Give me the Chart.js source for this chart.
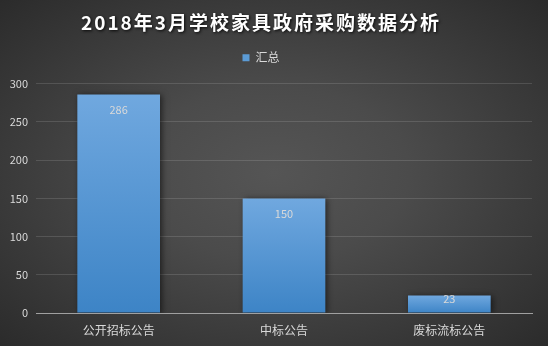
<!DOCTYPE html>
<html>
<head>
<meta charset="utf-8">
<script src="https://cdn.jsdelivr.net/npm/chart.js@4/dist/chart.umd.min.js"></script>
<style>
  html, body { margin: 0; padding: 0; }
  #wrap {
    width: 548px; height: 346px;
    background: radial-gradient(ellipse at 50% 50%, #555555 0%, #4b4b4b 35%, #2b2b2b 100%);
  }
</style>
</head>
<body>
<div id="wrap"><canvas id="grafico" width="548" height="346"></canvas></div>
<script>
// dados
var categorias = ['公开招标公告', '中标公告', '废标流标公告']
var valores = [286, 150, 23]
var nomeSerie = '汇总'
var tituloTexto = '2018年3月学校家具政府采购数据分析'
var eixoMin = 0
var eixoMax = 300
var passo = 50

var fonte = "'Noto Sans CJK SC', 'Noto Sans', sans-serif"
var corTexto = '#d9d9d9'
var corLegenda = '#5b9bd5'

// gradiente de cada barra (claro em cima, escuro embaixo)
function corBarra(context) {
    var chart = context.chart
    var area = chart.chartArea
    if (!area) return corLegenda
    var y = chart.scales.y
    var topo = y.getPixelForValue(context.raw)
    var base = y.getPixelForValue(0)
    var g = chart.ctx.createLinearGradient(0, topo, 0, base)
    g.addColorStop(0, '#70a8df')
    g.addColorStop(1, '#3d84c6')
    return g
}

// sombra no titulo + espaco extra depois da legenda
var ajustes = {
    id: 'ajustes',
    beforeLayout: function (chart) {
        var leg = chart.legend
        if (leg && !leg._ajustado) {
            var fitOriginal = leg.fit
            var drawLeg = leg.draw
            leg.fit = function () {
                fitOriginal.apply(this, arguments)
                this.height += 10
            }
            leg.draw = function () {
                this.ctx.save()
                this.ctx.translate(-5, 0)
                drawLeg.apply(this, arguments)
                this.ctx.restore()
            }
            leg._ajustado = true
        }
    },
    afterLayout: function (chart) {
        var t = chart.titleBlock
        if (!t || t._comSombra) return
        var original = t.draw
        t.draw = function () {
            var ctx = this.ctx
            ctx.save()
            ctx.shadowColor = 'rgba(0,0,0,0.85)'
            ctx.shadowBlur = 3
            ctx.shadowOffsetX = 1
            ctx.shadowOffsetY = 1
            ctx.letterSpacing = '2px'
            ctx.translate(-5, 0)
            original.apply(this, arguments)
            ctx.restore()
        }
        t._comSombra = true
    }
}

// sombra nas barras
var sombraBarras = {
    id: 'sombraBarras',
    beforeDatasetsDraw: function (chart) {
        var ctx = chart.ctx
        ctx.save()
        ctx.shadowColor = 'rgba(0,0,0,0.55)'
        ctx.shadowBlur = 6
        ctx.shadowOffsetX = 2
        ctx.shadowOffsetY = 1
    },
    afterDatasetsDraw: function (chart) {
        chart.ctx.restore()
    }
}

// rotulos de valor dentro da barra
var rotulos = {
    id: 'rotulos',
    afterDatasetsDraw: function (chart) {
        var ctx = chart.ctx
        var meta = chart.getDatasetMeta(0)
        ctx.save()
        ctx.font = '11px ' + fonte
        ctx.fillStyle = corTexto
        ctx.textAlign = 'center'
        ctx.textBaseline = 'middle'
        meta.data.forEach(function (barra, i) {
            var altura = barra.base - barra.y
            var y = Math.min(barra.y + 15, barra.y + altura / 2 - 5)
            ctx.fillText(String(valores[i]), barra.x, y)
        })
        ctx.restore()
    }
}

var grafico = new Chart(document.getElementById('grafico'), {
    type: 'bar',
    data: {
        labels: categorias,
        datasets: [{
            label: nomeSerie,
            data: valores,
            backgroundColor: corBarra,
            borderWidth: 0,
            categoryPercentage: 0.5,
            barPercentage: 1
        }]
    },
    options: {
        responsive: false,
        animation: false,
        layout: { padding: { top: 11, right: 16, left: 0, bottom: 0 } },
        plugins: {
            title: {
                display: true,
                text: tituloTexto,
                color: '#ffffff',
                font: { family: fonte, size: 19, weight: 'bold' },
                padding: { top: 0, bottom: 12 }
            },
            legend: {
                display: true,
                labels: {
                    color: corTexto,
                    font: { family: fonte, size: 12 },
                    boxWidth: 7,
                    boxHeight: 7,
                    padding: 6,
                    generateLabels: function (chart) {
                        var itens = Chart.defaults.plugins.legend.labels.generateLabels(chart)
                        itens.forEach(function (it) {
                            it.fillStyle = corLegenda
                            it.strokeStyle = corLegenda
                            it.lineWidth = 0
                            it.fontColor = corTexto
                        })
                        return itens
                    }
                }
            },
            tooltip: { enabled: false }
        },
        scales: {
            x: {
                grid: { display: false, drawTicks: false },
                border: { color: '#a0a0a0', width: 1 },
                ticks: { color: corTexto, font: { family: fonte, size: 12 }, padding: 10 },
                afterFit: function (s) { s.height = 33 }
            },
            y: {
                min: eixoMin,
                max: eixoMax,
                grid: { color: 'rgba(255,255,255,0.13)', drawTicks: false },
                border: { display: false },
                ticks: { stepSize: passo, color: corTexto, font: { family: fonte, size: 11 }, padding: 8 },
                afterFit: function (s) { s.width = 36 }
            }
        }
    },
    plugins: [ajustes, sombraBarras, rotulos]
})
</script>
</body>
</html>
